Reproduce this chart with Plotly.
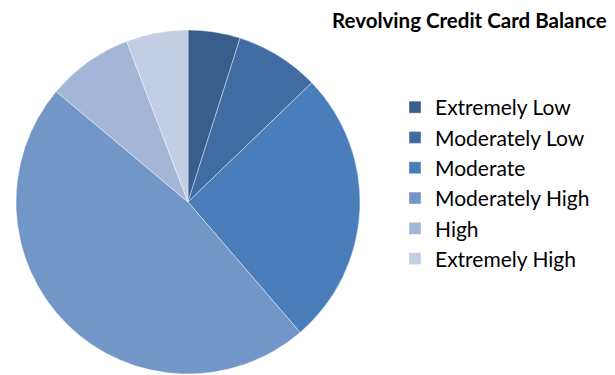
import plotly.graph_objects as go

# Share of accounts by revolving credit card balance level
categories = ["Extremely Low", "Moderately Low", "Moderate",
              "Moderately High", "High", "Extremely High"]
shares = [4.9, 7.9, 25.9, 47.4, 8.1, 5.8]
colors = ["#395E8D", "#416CA3", "#4A7EBB", "#7396C8", "#A3B6D7", "#C3CDE3"]

W, H = 615, 375

fig = go.Figure(
    go.Pie(
        labels=categories,
        values=shares,
        sort=False,
        direction="clockwise",
        rotation=0,
        textinfo="none",
        hoverinfo="label+percent",
        marker=dict(colors=colors, line=dict(color="white", width=0.4)),
        domain=dict(x=[16 / W, 360 / W], y=[1 - 374 / H, 1 - 30 / H]),
    )
)

fig.update_layout(
    width=W,
    height=H,
    margin=dict(l=0, r=0, t=0, b=0),
    paper_bgcolor="white",
    plot_bgcolor="white",
    showlegend=True,
    legend=dict(
        x=395 / W,
        y=1 - 87 / H,
        xanchor="left",
        yanchor="top",
        font=dict(family="Lato", size=21, color="#000000"),
        traceorder="normal",
    ),
    annotations=[
        dict(
            text="<b>Revolving Credit Card Balance</b>",
            x=469 / W,
            y=1 - 20 / H,
            xref="paper",
            yref="paper",
            xanchor="center",
            yanchor="middle",
            showarrow=False,
            font=dict(family="Lato", size=20.5, color="#000000"),
        )
    ],
)

fig.write_html("out.html")
